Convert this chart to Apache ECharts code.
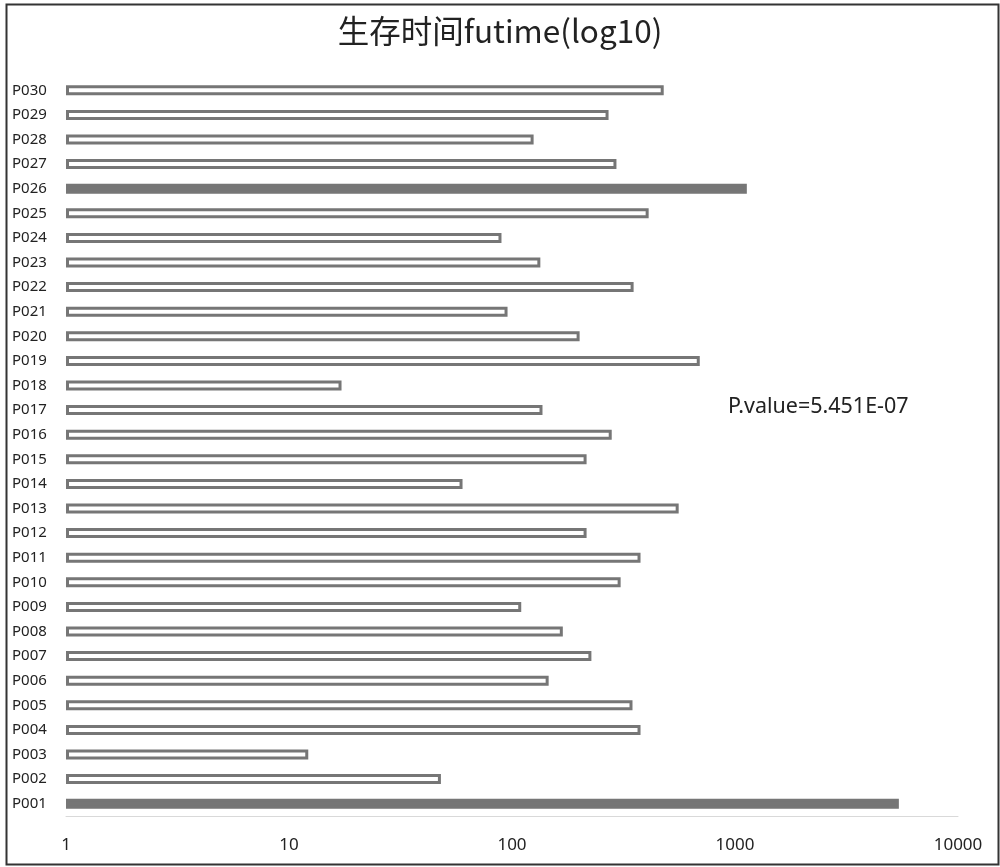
<!DOCTYPE html>
<html><head><meta charset="utf-8">
<script src="https://cdn.jsdelivr.net/npm/echarts@6/dist/echarts.min.js"></script>
<style>html,body{margin:0;padding:0;background:#fff}#c{width:1000px;height:867px}</style>
</head><body><div id="c"></div>
<script>
const categories = ["P001","P002","P003","P004","P005","P006","P007","P008","P009","P010","P011","P012","P013","P014","P015","P016","P017","P018","P019","P020","P021","P022","P023","P024","P025","P026","P027","P028","P029","P030"];
const futime = [5430,48,12.2,377,347,146,227,169,110,307,377,216,559,60,216,280,137,17.2,695,201,95.5,351,134,89.7,410,1130,294,125,271,479];
const filledPatients = ["P001","P026"];
const xTickLabels = ["1","10","100","1000","10000"];
const titleText = "生存时间futime(log10)";
const noteText = "P.value=5.451E-07";

const gray = '#767676';
const chart = echarts.init(document.getElementById('c'));
chart.setOption({
  animation: false,
  backgroundColor: '#fff',
  title: { text: titleText, left: 'center', top: 10,
    textStyle: { fontFamily: 'Noto Sans CJK SC', fontSize: 31.5, fontWeight: 'normal', color: '#222' } },
  grid: { left: 66, right: 42, top: 78, bottom: 51, containLabel: false },
  xAxis: {
    type: 'log', logBase: 10, min: 1, max: 10000,
    axisLine: { show: true, lineStyle: { color: '#d9d9d9', width: 1 } },
    axisTick: { show: false },
    splitLine: { show: false },
    axisLabel: { margin: 21, fontFamily: 'Noto Sans', fontSize: 17, color: '#222',
      formatter: v => { const i = Math.round(Math.log10(v)); return xTickLabels[i] !== undefined ? xTickLabels[i] : ''; } }
  },
  yAxis: {
    type: 'category', data: categories,
    axisLine: { show: false }, axisTick: { show: false },
    axisLabel: { align: 'left', margin: 54, fontFamily: 'Noto Sans', fontSize: 15, color: '#222' }
  },
  series: [{
    type: 'bar',
    barWidth: 10,
    data: categories.map((c, i) => {
      const filled = filledPatients.includes(c);
      return {
        value: futime[i],
        itemStyle: filled
          ? { color: gray, borderColor: gray, borderWidth: 3 }
          : { color: '#fff', borderColor: gray, borderWidth: 3 }
      };
    })
  }],
  graphic: [
    { type: 'rect', left: 4, top: 2, shape: { width: 992, height: 860 },
      style: { fill: 'none', stroke: '#333', lineWidth: 2 }, silent: true },
    { type: 'text', left: 728, top: 396,
      style: { text: noteText, font: '21.5px "Noto Sans"', fill: '#222' } }
  ]
});
</script></body></html>
